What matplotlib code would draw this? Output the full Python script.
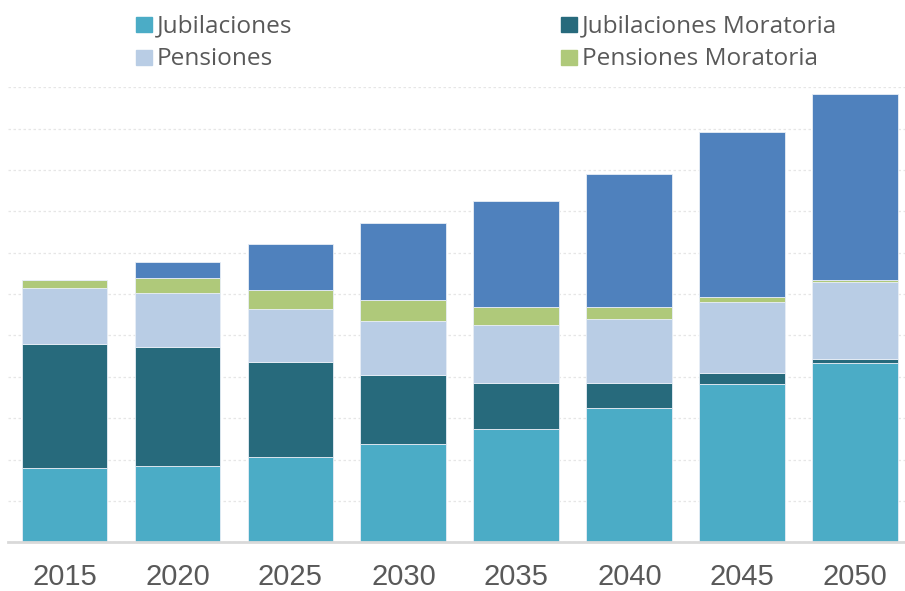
import numpy as np
import matplotlib.pyplot as plt
from matplotlib.patches import Rectangle

years = ['2015', '2020', '2025', '2030', '2035', '2040', '2045', '2050']
jubilaciones = [1.80, 1.85, 2.07, 2.38, 2.74, 3.24, 3.83, 4.34]
jubilaciones_moratoria = [3.00, 2.87, 2.28, 1.66, 1.11, 0.62, 0.27, 0.10]
pensiones = [1.36, 1.31, 1.28, 1.31, 1.40, 1.55, 1.70, 1.86]
pensiones_moratoria = [0.17, 0.36, 0.48, 0.50, 0.43, 0.28, 0.13, 0.05]
otros = [0.00, 0.38, 1.09, 1.87, 2.58, 3.22, 4.00, 4.49]

series = [
    ('Jubilaciones', jubilaciones, '#4BACC6'),
    ('Jubilaciones Moratoria', jubilaciones_moratoria, '#276A7C'),
    ('Pensiones', pensiones, '#B9CDE5'),
    ('Pensiones Moratoria', pensiones_moratoria, '#AFC97A'),
    (None, otros, '#4F81BD'),
]
colors = {name: col for name, _, col in series if name}

W, H = 905, 591
fig = plt.figure(figsize=(W / 100, H / 100), dpi=100)
ax = fig.add_axes([8 / W, 1 - 542.3 / H, 897 / W, (542.3 - 87.3) / H])

x = np.arange(len(years))
bottom = np.zeros(len(years))
for name, vals, col in series:
    vals = np.array(vals)
    ax.bar(x, vals, 0.76, bottom=bottom, color=col, edgecolor='#e8eef6',
           linewidth=0.6, zorder=3)
    bottom += vals

ax.set_xlim(-0.5, 7.44)
ax.set_ylim(0, 11)
ax.set_yticks(np.arange(0, 12))
ax.yaxis.grid(True, color='#e6e6e6', linestyle=(0, (2, 2)), linewidth=0.9, zorder=0)
ax.tick_params(axis='y', left=False, labelleft=False)
ax.tick_params(axis='x', length=0, pad=15, labelsize=21, labelcolor='#595959')
ax.set_xticks(x)
ax.set_xticklabels(years, fontfamily='Liberation Sans')
for s in ['top', 'right', 'left']:
    ax.spines[s].set_visible(False)
ax.spines['bottom'].set_color('#d9d9d9')
ax.spines['bottom'].set_linewidth(2)
ax.spines['bottom'].set_zorder(4)

# legend drawn by hand: two columns
legend_items = [
    ('Jubilaciones', 136, 24.5),
    ('Pensiones', 136, 57.5),
    ('Jubilaciones Moratoria', 561, 24.5),
    ('Pensiones Moratoria', 561, 57.5),
]
for name, px, py in legend_items:
    fig.patches.append(Rectangle((px / W, 1 - (py + 7.2) / H), 16 / W, 14.5 / H,
                                 transform=fig.transFigure, color=colors[name]))
    fig.text((px + 21) / W, 1 - (py + 1.5) / H, name, fontsize=17.6, family='Open Sans',
             color='#595959', va='center', ha='left')

fig.savefig('out.png', dpi=100)
